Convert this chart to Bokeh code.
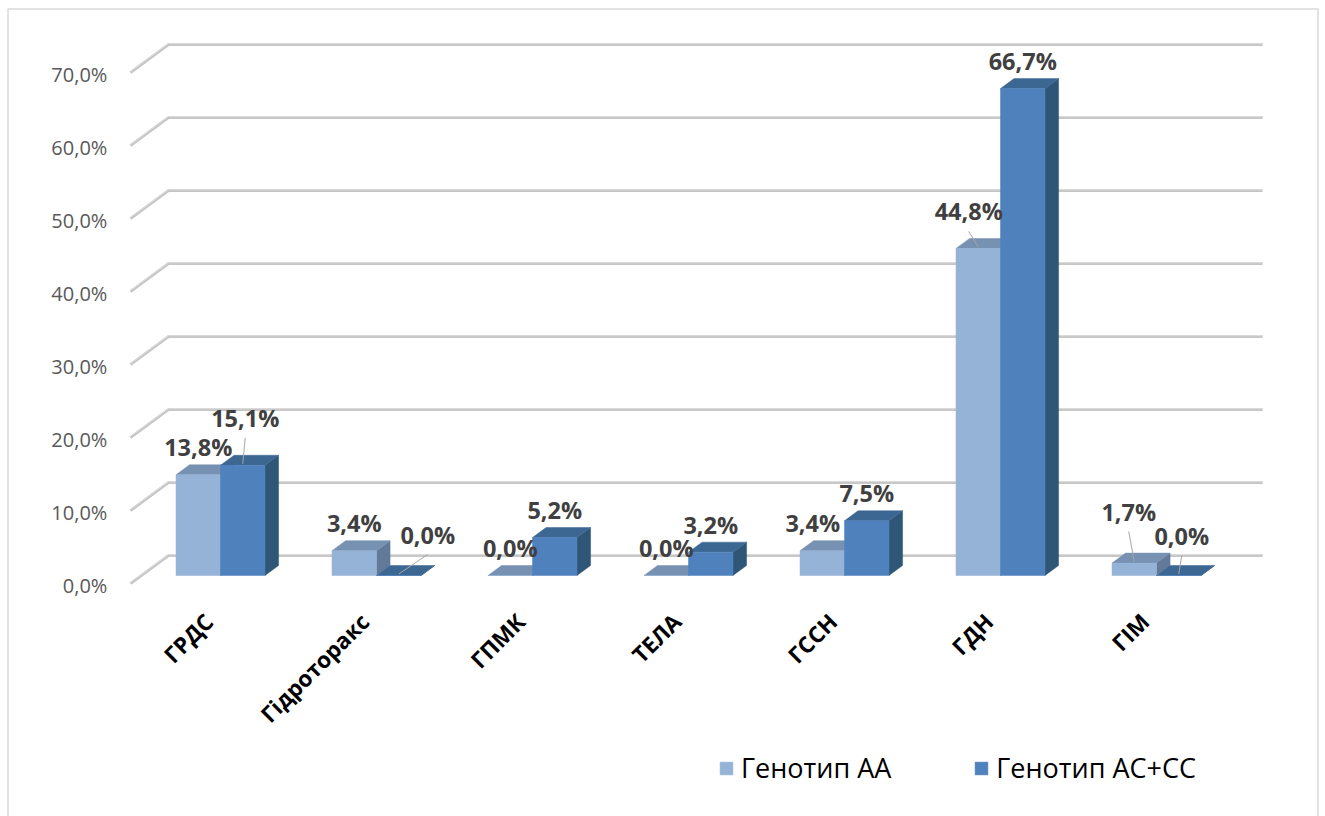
from math import pi

from bokeh.core.properties import value
from bokeh.embed import file_html
from bokeh.models import ColumnDataSource, Legend, LegendItem, Range1d
from bokeh.plotting import figure
from bokeh.resources import INLINE

# ---- data -------------------------------------------------------------
categories = ["ГРДС", "Гідроторакс", "ГПМК", "ТЕЛА", "ГССН", "ГДН", "ГІМ"]
genotype_aa = [13.8, 3.4, 0.0, 0.0, 3.4, 44.8, 1.7]
genotype_ac_cc = [15.1, 0.0, 5.2, 3.2, 7.5, 66.7, 0.0]
series_names = ["Генотип АА", "Генотип АС+СС"]
y_ticks = [0, 10, 20, 30, 40, 50, 60, 70]

# ---- layout / style ---------------------------------------------------
W, H = 1325, 816
SX = 156.0        # pixels per category step
SY = 7.3          # pixels per percent
ORIGIN_X = 220    # canvas x of the first category centre
ORIGIN_Y = 575    # canvas y of 0 % on the bars' front plane

DEPTH_X, DEPTH_Y = 38.0, 28.0   # oblique offset of the full floor depth (px)
D_FRONT = 0.29                  # depth of the bars' front faces
D_BAR = 0.357                   # depth of a bar
BAR_W = 44.5 / SX               # width of one bar (category units)
FLOOR_PAD = 0.507               # floor overhang beyond outer categories

FONT = "Open Sans"
FACE = {
    0: dict(front="#95B3D7", top="#7791B2", side="#62799A"),
    1: dict(front="#4F81BD", top="#3C6792", side="#2F5677"),
}
GRID_COLOR = "#C6C6C6"
CHART_BORDER = "#D9D9D9"

# per-label nudges (px right, px up) and whether a leader line is drawn
label_nudge = {
    (0, 1): (2.5, 20, True),
    (1, 1): (29, 13.5, True),
    (4, 0): (-9.5, 0, False),
    (5, 0): (-9.5, 9.5, True),
    (6, 0): (-5.5, 24, True),
    (6, 1): (3, 12.5, True),
}


def px_x(d):
    return d / SX


def px_y(d):
    return d / SY


def proj(x, y, d):
    """Oblique projection of a point at depth d (0 = floor front, 1 = back wall)."""
    return x + (d - D_FRONT) * DEPTH_X / SX, y + (d - D_FRONT) * DEPTH_Y / SY


x_start, x_end = -ORIGIN_X / SX, (W - ORIGIN_X) / SX
y_start, y_end = (ORIGIN_Y - H) / SY, ORIGIN_Y / SY

p = figure(
    width=W, height=H,
    x_range=Range1d(x_start, x_end), y_range=Range1d(y_start, y_end),
    x_axis_type=None, y_axis_type=None,
    output_backend="svg", toolbar_location=None,
    min_border=0,
    background_fill_color="white", border_fill_color="white",
    outline_line_color=None,
)
p.xgrid.visible = False
p.ygrid.visible = False

# chart-area border (left, top, right; the bottom edge runs off the page)
bl, br, bt = x_start + px_x(7.5), x_end - px_x(7.5), y_end - px_y(8.5)
p.line([bl, bl, br, br], [y_start, bt, bt, y_start],
       line_color=CHART_BORDER, line_width=1.5)

n = len(categories)
x_lo = -FLOOR_PAD
x_hi = (n - 1) + FLOOR_PAD

# ---- gridlines: left diagonal plus back wall ---------------------------
gx, gy = [], []
for v in y_ticks:
    a = proj(x_lo, v, 0)
    b = proj(x_lo, v, 1)
    c = proj(x_hi, v, 1)
    gx.append([a[0], b[0], c[0]])
    gy.append([a[1], b[1], c[1]])
p.multi_line(gx, gy, line_color=GRID_COLOR, line_width=3)
p.multi_line(gx, [[y + px_y(1) for y in ys] for ys in gy],
             line_color="#DDDDDD", line_width=1)

# tick labels at the front end of each diagonal
tick_pts = [proj(x_lo, v, 0) for v in y_ticks]
p.text(
    x=[pt[0] - px_x(23) for pt in tick_pts],
    y=[pt[1] - px_y(1.5) for pt in tick_pts],
    text=[f"{v:.1f}%".replace(".", ",") for v in y_ticks],
    text_font=value(FONT), text_font_size="20px", text_color="#595959",
    text_align="right", text_baseline="middle",
)

# ---- 3D bars ------------------------------------------------------------
front_renderers = []
for s, vals in enumerate([genotype_aa, genotype_ac_cc]):
    x0s = [i - BAR_W if s == 0 else i for i in range(n)]
    x1s = [x + BAR_W for x in x0s]
    top_xs, top_ys, side_xs, side_ys = [], [], [], []
    for x0, x1, v in zip(x0s, x1s, vals):
        btl = proj(x0, v, D_FRONT + D_BAR)
        btr = proj(x1, v, D_FRONT + D_BAR)
        top_xs.append([x0, x1, btr[0], btl[0]])
        top_ys.append([v, v, btr[1], btl[1]])
        bb = proj(x1, 0, D_FRONT + D_BAR)
        side_xs.append([x1, btr[0], bb[0], x1])
        side_ys.append([v, btr[1], bb[1], 0])
    p.patches(side_xs, side_ys, fill_color=FACE[s]["side"], line_color=FACE[s]["side"], line_width=0.5)
    p.patches(top_xs, top_ys, fill_color=FACE[s]["top"], line_color=FACE[s]["top"], line_width=0.5)
    src = ColumnDataSource(dict(x=[(a + b) / 2 for a, b in zip(x0s, x1s)], top=vals))
    r = p.vbar(x="x", top="top", bottom=0, width=BAR_W, source=src,
               fill_color=FACE[s]["front"], line_color=FACE[s]["front"], line_width=0.5)
    front_renderers.append(r)

# ---- data labels -------------------------------------------------------
lab_x, lab_y, lab_t = [], [], []
lead_xs, lead_ys = [], []
for s, vals in enumerate([genotype_aa, genotype_ac_cc]):
    for i, v in enumerate(vals):
        cx = i - BAR_W / 2 if s == 0 else i + BAR_W / 2
        dx, dy, leader = label_nudge.get((i, s), (0, 0, False))
        lx = cx + px_x(dx)
        ly = v + px_y(27.5 + dy)
        lab_x.append(lx)
        lab_y.append(ly)
        lab_t.append(f"{v:.1f}%".replace(".", ","))
        if leader:
            lead_xs.append([lx, cx])
            lead_ys.append([ly - px_y(20), v + px_y(1.5)])

p.multi_line(lead_xs, lead_ys, line_color="#A6A6A6", line_width=1)
p.text(
    x=lab_x, y=lab_y, text=lab_t,
    text_font=value(FONT), text_font_size="23.5px", text_font_style="bold",
    text_color="#404040", text_align="center", text_baseline="middle",
)

# ---- category labels ---------------------------------------------------
p.text(
    x=[i - px_x(11.5) for i in range(n)],
    y=[-px_y(42)] * n,
    text=categories, angle=pi / 4,
    text_font=value(FONT), text_font_size="22.5px", text_font_style="bold",
    text_color="#000000", text_align="right", text_baseline="middle",
)

# ---- legend ------------------------------------------------------------
legend = Legend(
    items=[LegendItem(label=name, renderers=[r]) for name, r in zip(series_names, front_renderers)],
    orientation="horizontal",
    location=(718, 30),
    glyph_width=16, glyph_height=16,
    label_standoff=7, spacing=82, padding=0, margin=0,
    label_text_font=FONT, label_text_font_size="27px", label_text_color="#000000",
    border_line_alpha=0, background_fill_alpha=0,
)
p.add_layout(legend)

open("out.html", "w").write(file_html(p, INLINE))
